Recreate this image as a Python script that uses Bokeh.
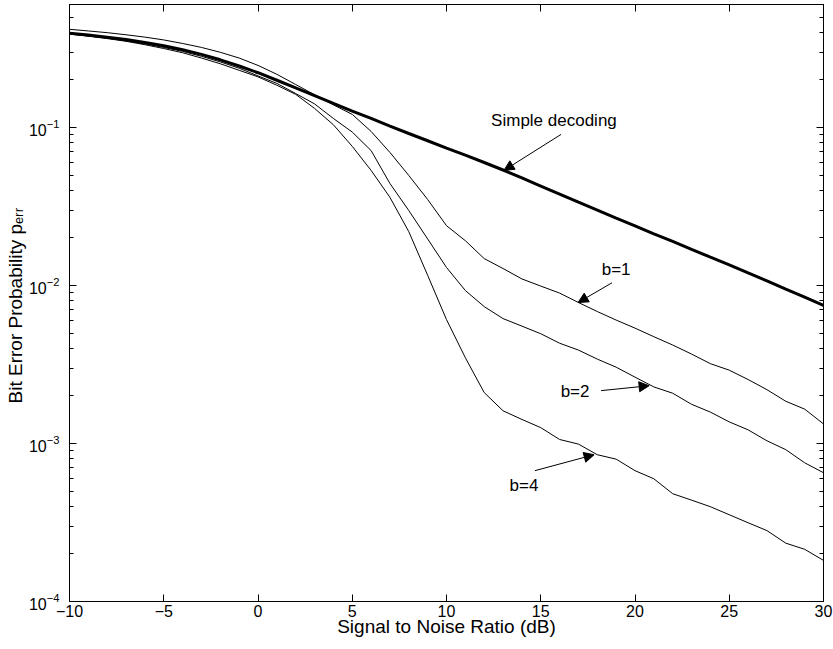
import numpy as np
from bokeh.plotting import figure
from bokeh.models import (LogAxis, LinearAxis, FixedTicker, Range1d, Arrow,
                          NormalHead, Label)
from bokeh.embed import file_html
from bokeh.resources import INLINE

# ---------------- data ----------------
snr_db = list(range(-10, 31))

simple = [0.395, 0.385, 0.373, 0.360, 0.345, 0.329, 0.310, 0.290, 0.268, 0.245,
          0.222,
          0.199, 0.178, 0.159, 0.142, 0.127, 0.114, 0.102, 0.0916, 0.0824, 0.0741,
          0.0668, 0.0600, 0.0538, 0.0479, 0.0426, 0.0379, 0.0337, 0.0300, 0.0267, 0.0238,
          0.0212, 0.0190, 0.0169, 0.0151, 0.0135, 0.0120, 0.0107, 0.00948, 0.00843, 0.00747]

b1 = [0.418, 0.408, 0.398, 0.386, 0.373, 0.358, 0.340, 0.321, 0.299, 0.275,
      0.247,
      0.217, 0.187, 0.161, 0.139, 0.121, 0.0944, 0.0695, 0.0497, 0.0350, 0.0239,
      0.0192, 0.0148, 0.0128, 0.0110, 0.00991, 0.00895, 0.00780, 0.00684, 0.00604, 0.00537,
      0.00474, 0.00420, 0.00368, 0.00320, 0.00291, 0.00254, 0.00219, 0.00185, 0.00165, 0.00133]

b2 = [0.391, 0.379, 0.367, 0.353, 0.338, 0.321, 0.303, 0.282, 0.260, 0.237,
      0.212,
      0.190, 0.164, 0.141, 0.114, 0.0935, 0.0714, 0.0442, 0.0298, 0.0197, 0.0130,
      0.00929, 0.00735, 0.00617, 0.00553, 0.00495, 0.00431, 0.00390, 0.00342, 0.00304, 0.00263,
      0.00228, 0.00208, 0.00177, 0.00158, 0.00137, 0.00122, 0.00104, 0.000914, 0.000755, 0.000653]

b4 = [0.390, 0.378, 0.365, 0.351, 0.334, 0.316, 0.297, 0.275, 0.253, 0.230,
      0.209,
      0.185, 0.162, 0.132, 0.104, 0.0759, 0.0535, 0.0361, 0.0219, 0.0116, 0.00608,
      0.00349, 0.00210, 0.00161, 0.00142, 0.00126, 0.00106, 0.000991, 0.000849, 0.000796, 0.000673,
      0.000598, 0.000481, 0.000438, 0.000398, 0.000354, 0.000315, 0.000281, 0.000234, 0.000214, 0.000182]

x_ticks = [-10, -5, 0, 5, 10, 15, 20, 25, 30]
y_ticks = [1e-4, 1e-3, 1e-2, 1e-1]
y_minor = [m * 10.0 ** e for e in range(-4, 0) for m in range(2, 10)]

x_label = "Signal to Noise Ratio (dB)"
y_label = "Bit Error Probability  p\u2091\u1d63\u1d63"

FONT = "Liberation Sans"
FS = "16px"
FS_TXT = "17px"
FS_AX = "19px"

# ---------------- figure ----------------
p = figure(width=833, height=649,
           x_range=Range1d(-10, 30), y_range=Range1d(1e-4, 0.6),
           y_axis_type="log",
           output_backend="svg", toolbar_location=None,
           min_border_left=69, min_border_right=10,
           min_border_top=4, min_border_bottom=48)
p.grid.visible = False
p.outline_line_color = "black"
p.outline_line_width = 1
p.background_fill_color = "white"
p.border_fill_color = "white"


def style_axis(ax, minor=True, labels=True):
    ax.axis_line_color = "black"
    ax.major_tick_line_color = "black"
    ax.major_tick_in = 7
    ax.major_tick_out = 0
    if minor:
        ax.minor_tick_line_color = "black"
        ax.minor_tick_in = 4
        ax.minor_tick_out = 0
    else:
        ax.minor_tick_line_color = None
    ax.major_label_text_font = FONT
    ax.major_label_text_color = "black"
    ax.axis_label_text_color = "black"
    if labels:
        ax.major_label_text_font_size = FS
    else:
        ax.major_label_text_font_size = "1px"
        ax.major_label_text_alpha = 0
        ax.major_label_standoff = 0


xb = p.xaxis[0]
xb.ticker = FixedTicker(ticks=x_ticks)
style_axis(xb, minor=False)
xb.major_label_standoff = 3
xb.axis_label = x_label
xb.axis_label_text_font = FONT
xb.axis_label_text_font_size = FS_AX
xb.axis_label_text_font_style = "normal"
xb.axis_label_standoff = -4

yl = p.yaxis[0]
yl.ticker = FixedTicker(ticks=y_ticks, minor_ticks=y_minor)
style_axis(yl)
yl.major_label_standoff = 10
yl.axis_label = y_label
yl.axis_label_text_font = FONT
yl.axis_label_text_font_size = FS_AX
yl.axis_label_text_font_style = "normal"
yl.axis_label_standoff = 0

xt = LinearAxis(ticker=FixedTicker(ticks=x_ticks))
style_axis(xt, minor=False, labels=False)
p.add_layout(xt, "above")

yr = LogAxis(ticker=FixedTicker(ticks=y_ticks, minor_ticks=y_minor))
style_axis(yr, labels=False)
p.add_layout(yr, "right")

# ---------------- curves ----------------
p.line(snr_db, b1, line_width=1, color="black")
p.line(snr_db, b2, line_width=1, color="black")
p.line(snr_db, b4, line_width=1, color="black")
p.line(snr_db, simple, line_width=3, color="black")

# ---------------- annotations ----------------
def note(x, y, text):
    p.add_layout(Label(x=x, y=y, text=text, text_font=FONT, text_font_size=FS_TXT,
                       text_color="black", text_align="center",
                       text_baseline="middle"))


def arrow(x0, y0, x1, y1):
    p.add_layout(Arrow(end=NormalHead(size=10, fill_color="black",
                                      line_color="black", line_width=1),
                       x_start=x0, y_start=y0, x_end=x1, y_end=y1,
                       line_color="black", line_width=1))


note(15.70, 0.110, "Simple decoding")
arrow(16.08, 0.0904, 13.05, 0.0535)
note(19.0, 0.0126, "b=1")
arrow(18.78, 0.0104, 16.98, 0.0078)
note(16.82, 0.00213, "b=2")
arrow(18.2, 0.00216, 20.75, 0.00232)
note(14.11, 0.000541, "b=4")
arrow(14.69, 0.000673, 17.83, 0.000849)

open("out.html", "w").write(file_html(p, INLINE))
